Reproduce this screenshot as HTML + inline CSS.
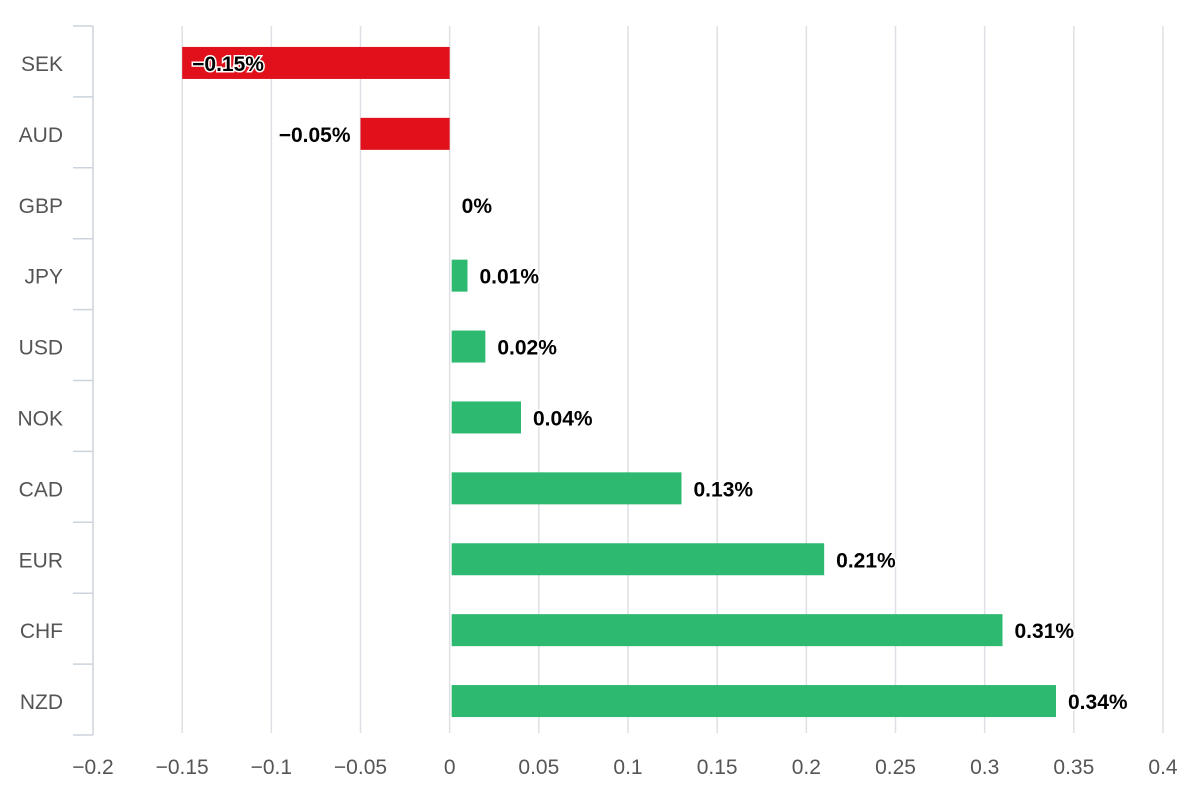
<!DOCTYPE html>
<html><head><meta charset="utf-8"><style>
html,body{margin:0;padding:0;background:#fff;}
svg{display:block;font-family:"Liberation Sans",sans-serif;}
</style></head><body>
<svg id="chart" width="1180" height="802" viewBox="0 0 1180 802"></svg>
<script>
const categories = ["SEK","AUD","GBP","JPY","USD","NOK","CAD","EUR","CHF","NZD"];
const values = [-0.15,-0.05,0,0.01,0.02,0.04,0.13,0.21,0.31,0.34];
const valueLabels = ["−0.15%","−0.05%","0%","0.01%","0.02%","0.04%","0.13%","0.21%","0.31%","0.34%"];
const xTicks = [-0.2,-0.15,-0.1,-0.05,0,0.05,0.1,0.15,0.2,0.25,0.3,0.35,0.4];
const xTickLabels = ["−0.2","−0.15","−0.1","−0.05","0","0.05","0.1","0.15","0.2","0.25","0.3","0.35","0.4"];

const svg = document.getElementById('chart');
const NS = 'http://www.w3.org/2000/svg';
const x0 = 93, x1 = 1163, yTop = 26, yBot = 735;
const xMin = -0.2, xMax = 0.4;
function xs(v){ return x0 + (v - xMin) / (xMax - xMin) * (x1 - x0); }
const band = (yBot - yTop) / categories.length;
function ys(i){ return yTop + band * i; }
function mk(tag, attrs){ const e = document.createElementNS(NS, tag); for (const k in attrs) e.setAttribute(k, attrs[k]); svg.appendChild(e); return e; }

xTicks.forEach((t, i) => {
  if (i > 0) {
    const g = mk('line', {x1: xs(t), x2: xs(t), y1: yTop, y2: yBot - 2, stroke: '#dde0e4', 'stroke-width': 1.5});
    
    
  }
  const l = mk('text', {x: xs(t), y: 774, 'text-anchor': 'middle', 'font-size': 21, fill: '#555'});
  l.textContent = xTickLabels[i];
  
  
});

const ax = mk('line', {x1: x0, x2: x0, y1: yTop, y2: yBot, stroke: '#ccd3dc', 'stroke-width': 1.5});


for (let i = 0; i <= categories.length; i++) {
  const tk = mk('line', {x1: x0 - 20, x2: x0, y1: ys(i), y2: ys(i), stroke: '#ccd3dc', 'stroke-width': 1.5});
  
  
}

categories.forEach((c, i) => {
  const cy = ys(i) + band / 2 + 1.5;
  const lab = mk('text', {x: 63, y: cy + 8, 'text-anchor': 'end', 'font-size': 21, fill: '#555'});
  lab.textContent = c;
  
  
  const v = values[i];
  const xa = xs(Math.min(0, v)), xb = xs(Math.max(0, v));
  if (v !== 0) {
    const r = mk('rect', {x: xa + (v > 0 ? 2 : 0), y: cy - 16, width: Math.max(0, xb - xa - (v > 0 ? 2 : 0)), height: 32, fill: v < 0 ? '#e0111b' : '#2eb970'});
    
    
  }
  let tx, anchor;
  if (v < -0.1) { tx = xa + 10; anchor = 'start'; }
  else if (v < 0) { tx = xa - 10; anchor = 'end'; }
  else { tx = xb + 12; anchor = 'start'; }
  const t = mk('text', {x: tx, y: cy + 8, 'text-anchor': anchor, 'font-size': 21, 'font-weight': 'bold', fill: '#000', stroke: '#fff', 'stroke-width': 3, 'paint-order': 'stroke'});
  t.textContent = valueLabels[i];
  
  
});
</script>
</body></html>
